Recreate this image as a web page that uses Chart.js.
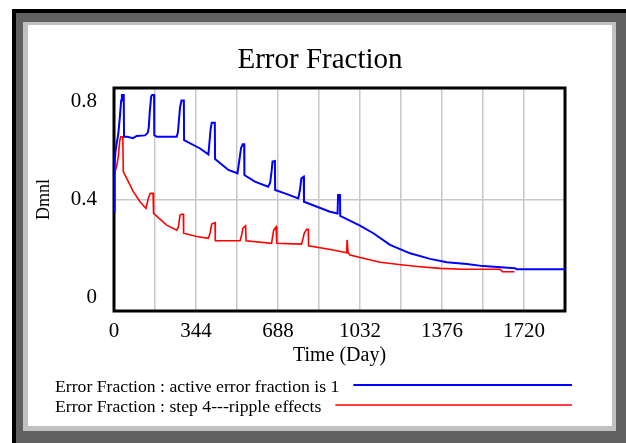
<!DOCTYPE html>
<html>
<head>
<meta charset="utf-8">
<script src="https://cdn.jsdelivr.net/npm/chart.js@4"></script>
<style>
  body { margin: 0; background: #fff; }
  canvas { display: block; }
</style>
</head>
<body>
<canvas id="errChart" width="626" height="443"></canvas>
<script>
// Error Fraction - two runs
const seriesNames = ['Error Fraction : active error fraction is 1', 'Error Fraction : step 4---ripple effects'];
const seriesColors = ['#0000ff', '#ff0000'];

const blueTime = [0, 2, 6, 11, 18, 25, 30, 33, 41, 42, 55, 80, 95, 130, 142, 146, 150, 156, 160, 168,
  169, 180, 263, 268, 272, 277, 283, 293, 294, 361, 396, 400, 405, 410, 423, 424, 480, 518, 525, 533,
  540, 546, 547, 591, 647, 655, 661, 665, 675, 676, 717, 773, 780, 786, 796, 797, 906, 938, 940, 948,
  949, 1032, 1088, 1158, 1242, 1326, 1396, 1480, 1549, 1682, 1690, 1892];
const blueValues = [0.356, 0.52, 0.57, 0.60, 0.635, 0.70, 0.755, 0.775, 0.775, 0.625, 0.625, 0.62, 0.628, 0.63, 0.64, 0.66, 0.715, 0.77, 0.775, 0.775,
  0.631, 0.625, 0.625, 0.64, 0.68, 0.73, 0.755, 0.755, 0.613, 0.583, 0.562, 0.60, 0.65, 0.675, 0.675, 0.545, 0.506, 0.494, 0.536, 0.585,
  0.598, 0.598, 0.488, 0.464, 0.446, 0.46, 0.50, 0.536, 0.538, 0.434, 0.422, 0.404, 0.434, 0.476, 0.482, 0.392, 0.356, 0.35, 0.416, 0.416,
  0.341, 0.306, 0.279, 0.237, 0.207, 0.187, 0.175, 0.169, 0.161, 0.153, 0.15, 0.15];

const redTime = [0, 2, 11, 18, 24, 28, 37, 39, 60, 81, 109, 134, 144, 152, 164, 166, 221, 263, 270, 277,
  284, 291, 292, 347, 396, 403, 410, 424, 425, 529, 536, 541, 552, 554, 661, 665, 670, 680, 683, 787,
  793, 798, 808, 815, 816, 920, 976, 978, 981, 982, 990, 1046, 1116, 1214, 1284, 1368, 1466, 1619, 1630, 1680];
const redValues = [0.356, 0.49, 0.52, 0.553, 0.61, 0.625, 0.625, 0.50, 0.464, 0.428, 0.392, 0.368, 0.404, 0.422, 0.422, 0.35, 0.308, 0.29, 0.30, 0.344,
  0.347, 0.347, 0.279, 0.267, 0.261, 0.28, 0.312, 0.317, 0.252, 0.252, 0.275, 0.297, 0.306, 0.252, 0.243, 0.265, 0.29, 0.302, 0.243, 0.24,
  0.26, 0.279, 0.293, 0.293, 0.234, 0.219, 0.209, 0.255, 0.255, 0.209, 0.201, 0.189, 0.175, 0.165, 0.159, 0.153, 0.15, 0.15, 0.141, 0.141];

const xTickLabels = ['0', '344', '688', '1032', '1376', '1720'];
const yTickLabels = ['0', '0.4', '0.8'];

const serif = "'Liberation Serif', 'Times New Roman', serif";

function toPoints(ts, vs) {
  return ts.map((t, i) => ({ x: t, y: vs[i] }));
}

// grey bevelled frame behind everything
const framePlugin = {
  id: 'frame',
  beforeDraw(chart) {
    const c = chart.ctx;
    c.save();
    c.fillStyle = '#ffffff';
    c.fillRect(0, 0, 626, 443);
    c.fillStyle = '#616161';
    c.fillRect(12, 9, 614, 434);
    c.fillStyle = '#000000';
    c.fillRect(12, 9, 614, 4);
    c.fillRect(12, 9, 4, 434);
    c.fillStyle = '#c0c0c0';
    c.fillRect(23, 22, 593, 409);
    c.fillStyle = '#ffffff';
    c.fillRect(28, 25, 584, 401);
    c.restore();
  },
  beforeDatasetsDraw(chart) {
    const a = chart.chartArea;
    const c = chart.ctx;
    c.save();
    c.strokeStyle = '#000';
    c.lineWidth = 3;
    c.strokeRect(a.left, a.top, a.right - a.left, a.bottom - a.top);
    c.restore();
  },
  afterDraw(chart) {
    // Vensim style legend: text then a line sample
    const c = chart.ctx;
    c.save();
    c.font = '17.7px ' + serif;
    c.fillStyle = '#000';
    c.textBaseline = 'alphabetic';
    const rows = [392, 412];
    const lineY = [385, 405];
    chart.data.datasets.forEach((ds, i) => {
      c.fillText(ds.label, 55, rows[i]);
      const w = c.measureText(ds.label).width;
      c.strokeStyle = ds.borderColor;
      c.lineWidth = i === 0 ? 2 : 1.6;
      c.beginPath();
      c.moveTo(55 + w + 14, lineY[i]);
      c.lineTo(572, lineY[i]);
      c.stroke();
    });
    c.restore();
  }
};

new Chart(document.getElementById('errChart'), {
  type: 'line',
  data: {
    datasets: [
      {
        label: seriesNames[0],
        data: toPoints(blueTime, blueValues),
        borderColor: seriesColors[0],
        borderWidth: 2,
        pointRadius: 0,
        tension: 0
      },
      {
        label: seriesNames[1],
        data: toPoints(redTime, redValues),
        borderColor: seriesColors[1],
        borderWidth: 1.6,
        pointRadius: 0,
        tension: 0
      }
    ]
  },
  options: {
    responsive: false,
    animation: false,
    devicePixelRatio: 1,
    layout: { padding: { top: 25, left: 28, right: 14, bottom: 72 } },
    scales: {
      x: {
        type: 'linear',
        min: 0,
        max: 1892,
        afterFit: s => { s.height = 60; },
        border: { display: false },
        grid: { color: '#c8c8c8', lineWidth: 1.5, drawTicks: false },
        ticks: {
          stepSize: 172,
          padding: 8,
          maxRotation: 0,
          autoSkip: false,
          color: '#000',
          font: { family: serif, size: 21 },
          callback: v => xTickLabels.includes(String(v)) ? String(v) : ''
        },
        title: {
          display: true,
          text: 'Time (Day)',
          color: '#000',
          font: { family: serif, size: 20 },
          padding: { top: 0, bottom: 3 }
        }
      },
      y: {
        min: 0,
        max: 0.8,
        afterFit: s => { s.width = 86; },
        border: { display: false },
        grid: { color: '#c8c8c8', lineWidth: 1.5, drawTicks: false },
        ticks: {
          stepSize: 0.2,
          padding: 17,
          color: '#000',
          font: { family: serif, size: 21, lineHeight: 1.3 },
          callback: (v, i, all) => {
            const s = String(Math.round(v * 10) / 10);
            if (!yTickLabels.includes(s)) return '';
            if (i === 0) return [s, ''];
            if (i === all.length - 1) return ['', s];
            return s;
          }
        },
        title: {
          display: true,
          text: 'Dmnl',
          color: '#000',
          font: { family: serif, size: 18 },
          padding: { top: 5, bottom: 0 }
        }
      },
      // empty right-hand margin so the title centres on the white panel
      yRight: {
        position: 'right',
        min: 0,
        max: 0.8,
        afterFit: s => { s.width = 47; },
        border: { display: false },
        grid: { display: false },
        ticks: { display: false }
      }
    },
    plugins: {
      legend: { display: false },
      tooltip: { enabled: false },
      title: {
        display: true,
        text: 'Error Fraction',
        color: '#000',
        font: { family: serif, size: 29, weight: 'normal' },
        padding: { top: 18, bottom: 10.2 }
      }
    }
  },
  plugins: [framePlugin]
});
</script>
</body>
</html>
